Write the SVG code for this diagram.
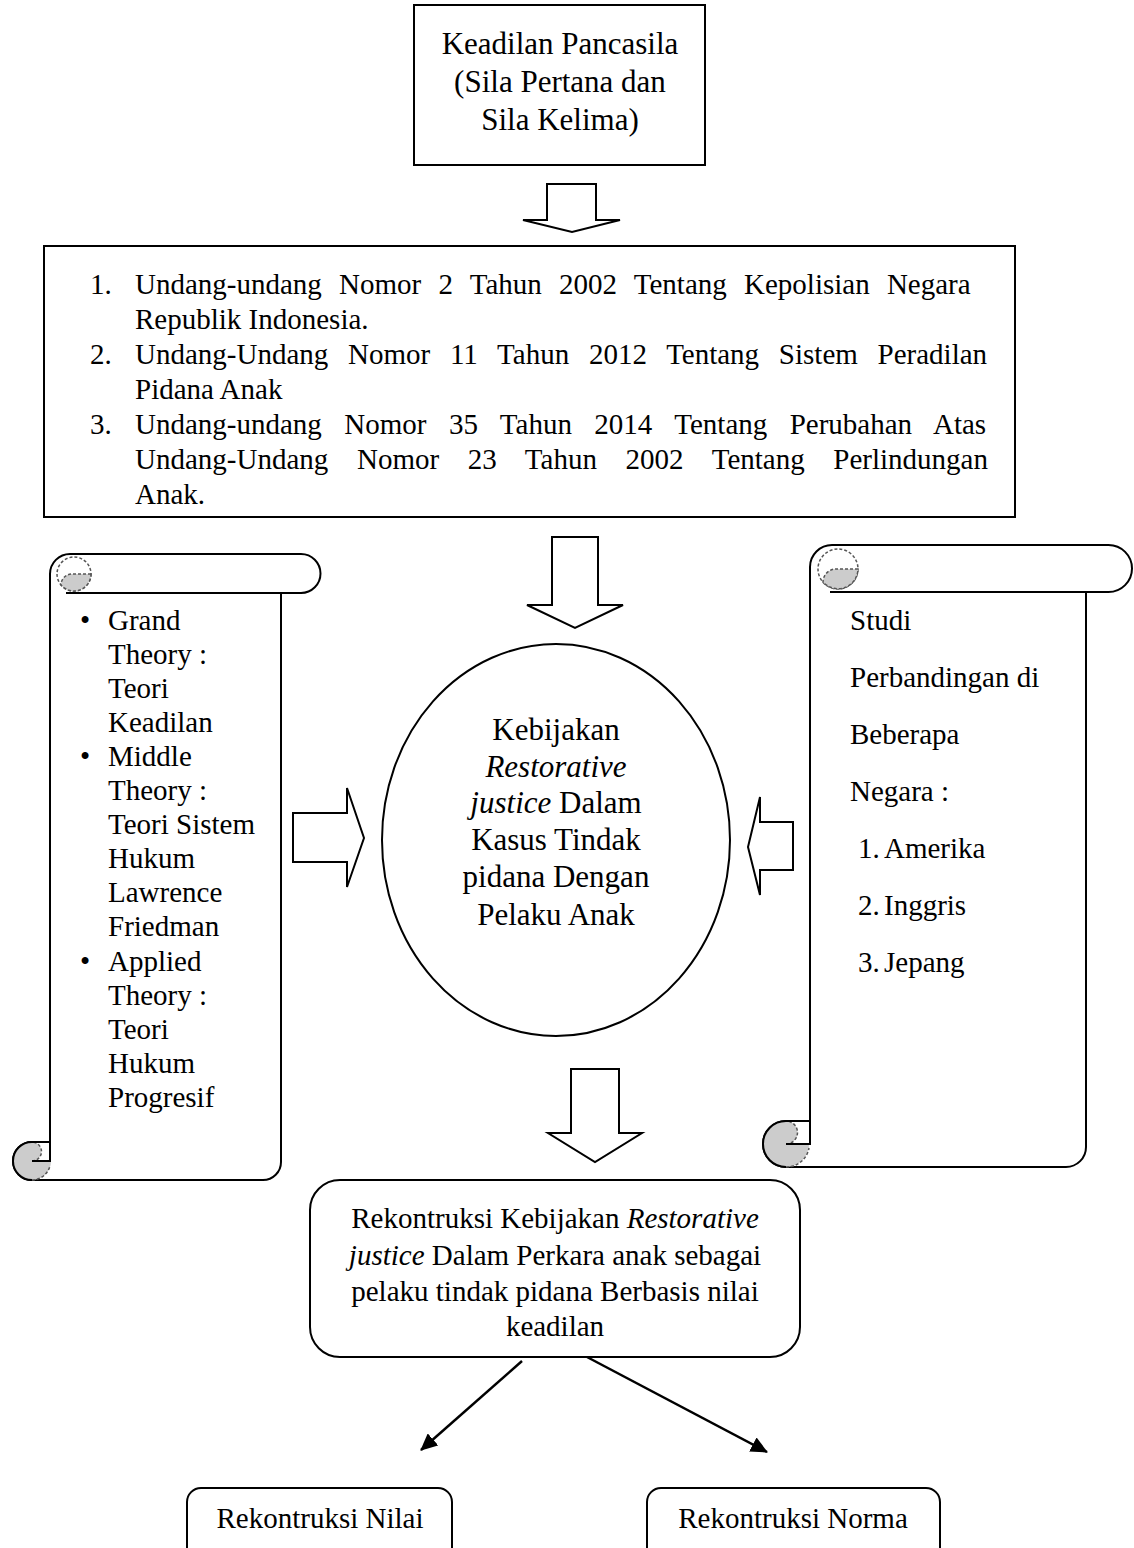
<svg xmlns="http://www.w3.org/2000/svg" width="1134" height="1548" viewBox="0 0 1134 1548">
<style>
  .t{font-family:"Liberation Serif","Times New Roman",serif;font-size:29px;fill:#000}
  .c{text-anchor:middle}
  .e{font-size:31px}
  .i{font-style:italic}
  .box{fill:#fff;stroke:#000;stroke-width:2}
  .arr{fill:#fff;stroke:#000;stroke-width:2;stroke-linejoin:miter}
  .scroll{fill:#fff;stroke:#000;stroke-width:2}
  .curl{fill:#cccccc;stroke:#555;stroke-width:1.5;stroke-dasharray:3 2}
  .dash{fill:none;stroke:#555;stroke-width:1.5;stroke-dasharray:3 2}
  .edge{fill:none;stroke:#000;stroke-width:2}
  .ln{stroke:#000;stroke-width:2.5;fill:none}
</style>
<defs>
  <marker id="ah" markerUnits="userSpaceOnUse" markerWidth="18" markerHeight="16" refX="16" refY="8" orient="auto">
    <path d="M0,0 L17,8 L0,16 z" fill="#000"/>
  </marker>
</defs>
<rect width="1134" height="1548" fill="#fff"/>

<g id="node-pancasila">
  <rect class="box" x="414" y="5" width="291" height="160"/>
  <text class="t c e" x="560" y="54">Keadilan Pancasila</text>
  <text class="t c e" x="560" y="92">(Sila Pertana dan</text>
  <text class="t c e" x="560" y="130">Sila Kelima)</text>
</g>

<g id="node-undang">
  <rect class="box" x="44" y="246" width="971" height="271"/>
  <text class="t" x="90" y="294">1.</text>
  <text class="t" x="135" y="294" word-spacing="10">Undang-undang Nomor 2 Tahun 2002 Tentang Kepolisian Negara</text>
  <text class="t" x="135" y="329">Republik Indonesia.</text>
  <text class="t" x="90" y="364">2.</text>
  <text class="t" x="135" y="364" word-spacing="12.5">Undang-Undang Nomor 11 Tahun 2012 Tentang Sistem Peradilan</text>
  <text class="t" x="135" y="399">Pidana Anak</text>
  <text class="t" x="90" y="434">3.</text>
  <text class="t" x="135" y="434" word-spacing="15.2">Undang-undang Nomor 35 Tahun 2014 Tentang Perubahan Atas</text>
  <text class="t" x="135" y="469" word-spacing="21.4">Undang-Undang Nomor 23 Tahun 2002 Tentang Perlindungan</text>
  <text class="t" x="135" y="504">Anak.</text>
</g>

<g id="node-teori">
  <path class="scroll" d="M50,1142 V574 A20,20 0 0 1 70,554 H301 A19.5,19.5 0 0 1 301,593 H66 M281,593 V1162 A18,18 0 0 1 263,1180 H32 A19,19 0 0 1 32,1142 H50"/>
  <circle class="dash" cx="74" cy="574" r="17"/>
  <path class="curl" d="M91,574 H72 A11,11 0 0 0 61,585 A17,17 0 0 0 91,574 Z"/>
  <circle cx="32" cy="1161" r="19" fill="#cccccc"/>
  <path d="M32,1142 H50 V1161 H32 A9.5,9.5 0 0 0 32,1142 Z" fill="#fff"/>
  <path class="dash" d="M32,1161 A9.5,9.5 0 0 0 32,1142"/>
  <path class="edge" d="M32,1142 H50 V1161 H32"/>
  <path class="edge" d="M32,1180 A19,19 0 0 1 32,1142"/>
  <path class="dash" d="M32,1180 A19,19 0 0 0 50,1166"/>
  <text class="t" x="80" y="630">•</text><text class="t" x="108" y="630">Grand</text>
  <text class="t" x="108" y="664">Theory :</text>
  <text class="t" x="108" y="698">Teori</text>
  <text class="t" x="108" y="732">Keadilan</text>
  <text class="t" x="80" y="766">•</text><text class="t" x="108" y="766">Middle</text>
  <text class="t" x="108" y="800">Theory :</text>
  <text class="t" x="108" y="834">Teori Sistem</text>
  <text class="t" x="108" y="868">Hukum</text>
  <text class="t" x="108" y="902">Lawrence</text>
  <text class="t" x="108" y="936">Friedman</text>
  <text class="t" x="80" y="971">•</text><text class="t" x="108" y="971">Applied</text>
  <text class="t" x="108" y="1005">Theory :</text>
  <text class="t" x="108" y="1039">Teori</text>
  <text class="t" x="108" y="1073">Hukum</text>
  <text class="t" x="108" y="1107">Progresif</text>
</g>

<g id="node-studi">
  <path class="scroll" d="M810,1121 V567 A22,22 0 0 1 832,545 H1108.5 A23.5,23.5 0 0 1 1108.5,592 H830 M1086,592 V1147 A20,20 0 0 1 1066,1167 H786 A23,23 0 0 1 786,1121 H810"/>
  <circle class="dash" cx="838" cy="569" r="20"/>
  <path class="curl" d="M858,569 H836 A13,13 0 0 0 823,582 A20,20 0 0 0 858,569 Z"/>
  <circle cx="786" cy="1144" r="23" fill="#cccccc"/>
  <path d="M786,1121 H810 V1144 H786 A11.5,11.5 0 0 0 786,1121 Z" fill="#fff"/>
  <path class="dash" d="M786,1144 A11.5,11.5 0 0 0 786,1121"/>
  <path class="edge" d="M786,1121 H810 V1144 H786"/>
  <path class="edge" d="M786,1167 A23,23 0 0 1 786,1121"/>
  <path class="dash" d="M786,1167 A23,23 0 0 0 809,1148"/>
  <text class="t" x="850" y="630">Studi</text>
  <text class="t" x="850" y="687">Perbandingan di</text>
  <text class="t" x="850" y="744">Beberapa</text>
  <text class="t" x="850" y="801">Negara :</text>
  <text class="t" x="858" y="858">1.</text><text class="t" x="884" y="858">Amerika</text>
  <text class="t" x="858" y="915">2.</text><text class="t" x="884" y="915">Inggris</text>
  <text class="t" x="858" y="972">3.</text><text class="t" x="884" y="972">Jepang</text>
</g>

<g id="node-kebijakan">
  <ellipse class="box" cx="556" cy="840" rx="174" ry="196"/>
  <text class="t c e" x="556" y="740">Kebijakan</text>
  <text class="t c e i" x="556" y="777">Restorative</text>
  <text class="t c e" x="556" y="813"><tspan class="i">justice</tspan> Dalam</text>
  <text class="t c e" x="556" y="850">Kasus Tindak</text>
  <text class="t c e" x="556" y="887">pidana Dengan</text>
  <text class="t c e" x="556" y="925">Pelaku Anak</text>
</g>

<g id="node-rekontruksi">
  <rect class="box" x="310" y="1180" width="490" height="177" rx="30" ry="30"/>
  <text class="t c" x="555" y="1228">Rekontruksi Kebijakan <tspan class="i">Restorative</tspan></text>
  <text class="t c" x="555" y="1265"><tspan class="i">justice</tspan> Dalam Perkara anak sebagai</text>
  <text class="t c" x="555" y="1301">pelaku tindak pidana Berbasis nilai</text>
  <text class="t c" x="555" y="1336">keadilan</text>
</g>

<g id="node-nilai">
  <rect class="box" x="187" y="1488" width="265" height="80" rx="14" ry="14"/>
  <text class="t c" x="320" y="1528">Rekontruksi Nilai</text>
</g>

<g id="node-norma">
  <rect class="box" x="647" y="1488" width="293" height="80" rx="14" ry="14"/>
  <text class="t c" x="793" y="1528">Rekontruksi Norma</text>
</g>

<g id="connectors">
  <polygon class="arr" points="547,184 596,184 596,220 620,220 572,232 523,220 547,220"/>
  <polygon class="arr" points="552,537 598,537 598,605 623,605 575,628 527,605 552,605"/>
  <polygon class="arr" points="293,813 347,813 347,788 364,838 347,887 347,862 293,862"/>
  <polygon class="arr" points="793,822 760,822 760,797 748,847 760,895 760,870 793,870"/>
  <polygon class="arr" points="571,1069 619,1069 619,1133 642,1133 595,1162 548,1133 571,1133"/>
  <line class="ln" x1="522" y1="1361" x2="421" y2="1450" marker-end="url(#ah)"/>
  <line class="ln" x1="587" y1="1357" x2="767" y2="1452" marker-end="url(#ah)"/>
</g>
</svg>
